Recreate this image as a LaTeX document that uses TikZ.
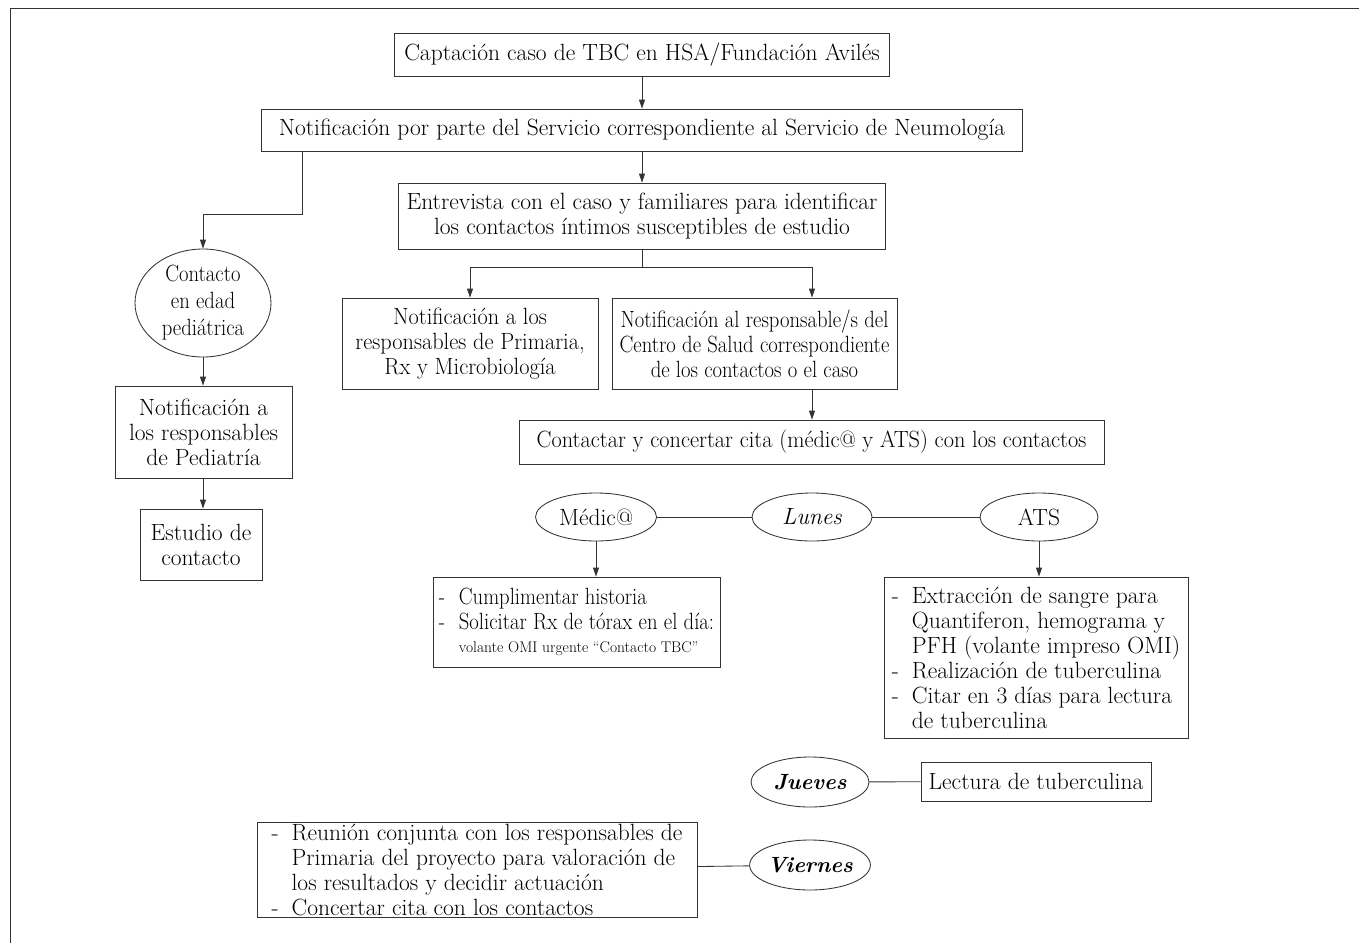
\documentclass[tikz,border=0pt]{standalone}
\usepackage{fontspec}
\usetikzlibrary{shapes.geometric,arrows.meta,calc}
\newfontfamily\stretchA{Latin Modern Roman}[FakeStretch=0.88]
\newfontfamily\stretchB{Latin Modern Roman}[FakeStretch=0.95]
\newcommand\fs{\fontsize{23.5}{25}\selectfont}
\newcommand\fsmall{\fontsize{15.5}{18}\selectfont}
\newcommand\dash{\makebox[20pt][l]{-}}
\newcommand\ind{\hspace*{20pt}}
\begin{document}
\begin{tikzpicture}[x=1pt,y=-1pt,
  ln/.style={draw=black!80,line width=0.85pt},
  arr/.style={ln,-{Triangle[length=9pt,width=6pt]}},
  box/.style={ln,rectangle,inner sep=0pt,align=center,font=\fs},
  oval/.style={ln,ellipse,inner sep=0pt,align=center,font=\fs}]
\useasboundingbox (0,0) rectangle (1359,943);
\draw[ln] (10,943) -- (10,8) -- (1359,8);

% main column
\node[box,minimum width=495pt,minimum height=43pt] (b1) at (642,54.5) {Captación caso de TBC en HSA/Fundación Avilés};
\node[box,minimum width=761pt,minimum height=42pt] (b2) at (642,130) {Notificación por parte del Servicio correspondiente al Servicio de Neumología};
\node[box,minimum width=487pt,minimum height=66pt] (b3) at (642,216) {Entrevista con el caso y familiares para identificar\\los contactos íntimos susceptibles de estudio};
\node[box,minimum width=256pt,minimum height=91pt,font=\fs\stretchB] (b4) at (470,343.5) {Notificación a los\\responsables de Primaria,\\Rx y Microbiología};
\node[box,minimum width=285pt,minimum height=91pt,font=\fs\stretchA] (b5) at (754.5,343.5) {Notificación al responsable/s del\\Centro de Salud correspondiente\\de los contactos o el caso};
\node[box,minimum width=585pt,minimum height=44pt,font=\fs\stretchB] (b6) at (811.5,442) {Contactar y concertar cita (médic@ y ATS) con los contactos};

% days
\node[oval,minimum width=121pt,minimum height=48pt] (med) at (596,517) {Médic@};
\node[oval,minimum width=120pt,minimum height=48pt,font=\fs\itshape] (lun) at (812,517) {Lunes};
\node[oval,minimum width=118pt,minimum height=48pt] (ats) at (1039,517) {ATS};

\node[box,minimum width=287pt,minimum height=90pt,align=left,font=\fs\stretchA] (b7) at (576.5,622)
 {\dash Cumplimentar historia\\\dash Solicitar Rx de tórax en el día:\\[-2pt]\ind{\fsmall\rmfamily volante OMI urgente “Contacto TBC”}};
\node[box,minimum width=304pt,minimum height=161pt,align=left] (b8) at (1036,657.5)
 {\dash Extracción de sangre para\\\ind Quantiferon, hemograma y\\\ind PFH (volante impreso OMI)\\\dash Realización de tuberculina\\\dash Citar en 3 días para lectura\\\ind de tuberculina};

\node[oval,minimum width=118pt,minimum height=50pt,font=\fontsize{22}{25}\selectfont\bfseries\itshape] (jue) at (810,782) {Jueves};
\node[box,minimum width=230pt,minimum height=39pt] (lec) at (1036,781.5) {Lectura de tuberculina};
\node[oval,minimum width=118pt,minimum height=50pt,font=\fontsize{22}{25}\selectfont\bfseries\itshape] (vie) at (810,865) {Viernes};
\node[box,minimum width=440pt,minimum height=95pt,align=left] (b9) at (477,869.5)
 {\dash Reunión conjunta con los responsables de\\\ind Primaria del proyecto para valoración de\\\ind los resultados y decidir actuación\\\dash Concertar cita con los contactos};

% left column
\node[oval,minimum width=136pt,minimum height=108pt,font=\fontsize{23.5}{27}\selectfont\stretchA] (ped) at (203,303) {Contacto\\en edad\\pediátrica};
\node[box,minimum width=177pt,minimum height=92pt] (b10) at (203.5,432) {Notificación a\\los responsables\\de Pediatría};
\node[box,minimum width=122pt,minimum height=71pt] (b11) at (201,544.5) {Estudio de\\contacto};

% connectors
\draw[arr] (b1) -- (b2);
\draw[arr] (b2) -- (b3);
\coordinate (k1) at (302,214);
\draw[arr] (b2.south -| k1) -- (k1) -| (ped.north);
\coordinate (k2) at (642,267);
\coordinate (k3) at (812,267);
\draw[ln] (b3.south) -- (k2);
\draw[ln] (k2 -| b4.north) -- (k3);
\draw[arr] (k2 -| b4.north) -- (b4.north);
\draw[arr] (k3) -- (k3 |- b5.north);
\draw[arr] (k3 |- b5.south) -- (k3 |- b6.north);
\draw[ln] (med) -- (lun);
\draw[ln] (lun) -- (ats);
\draw[arr] (med.south) -- (med.south |- b7.north);
\draw[arr] (ats.south) -- (ats.south |- b8.north);
\draw[ln] (jue) -- (lec);
\draw[ln] (vie) -- (b9);
\draw[arr] (ped.south) -- (ped.south |- b10.north);
\draw[arr] (ped.south |- b10.south) -- (ped.south |- b11.north);
\end{tikzpicture}
\end{document}
